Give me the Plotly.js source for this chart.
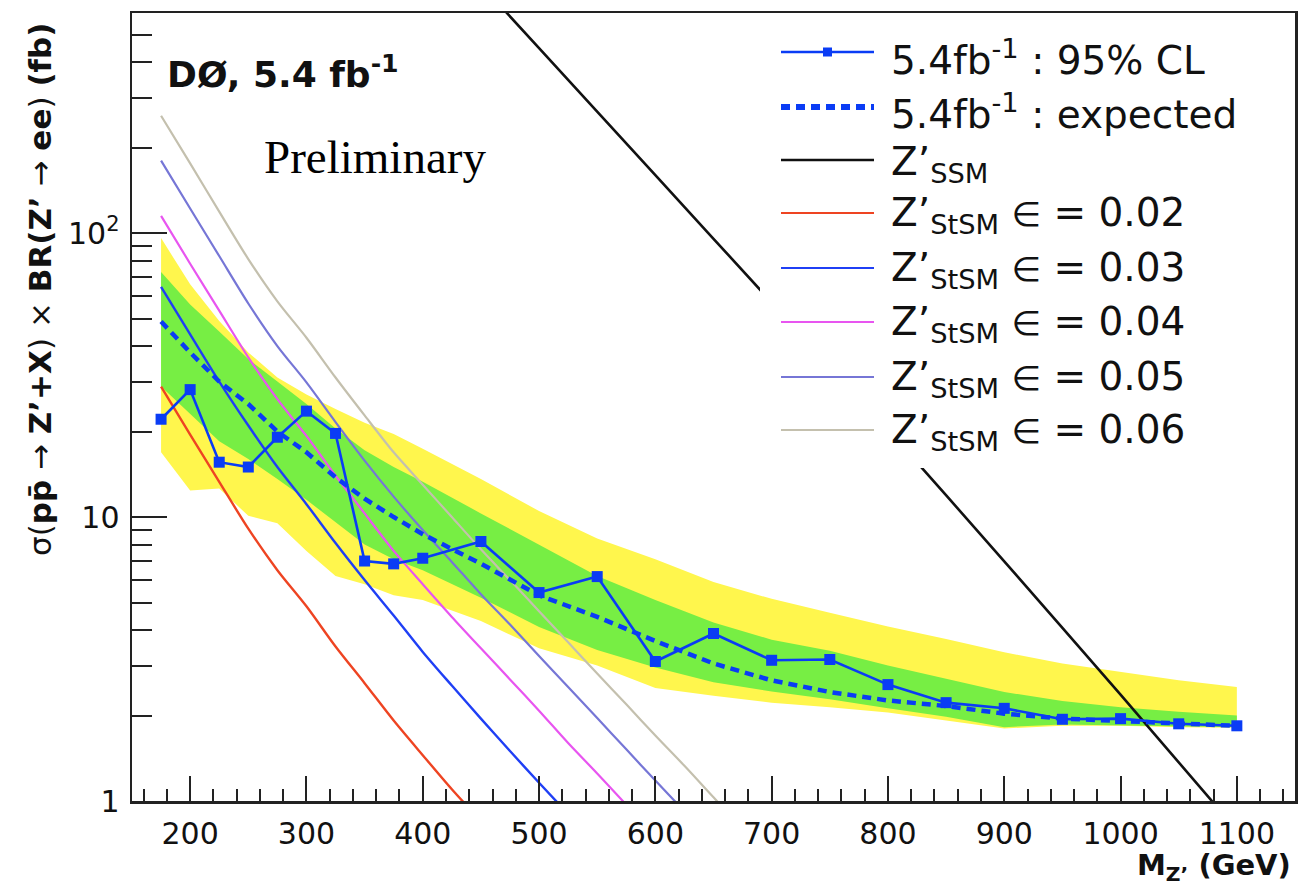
<!DOCTYPE html>
<html>
<head>
<meta charset="utf-8">
<script src="https://cdn.plot.ly/plotly-3.0.1.min.js"></script>
<style>html,body{margin:0;padding:0;background:#fff;}#chart{width:1313px;height:886px;}</style>
</head>
<body>
<div id="chart"></div>
<script>
// ---------------- data ----------------
const masses = [175,200,225,250,275,300,325,350,375,400,450,500,550,600,650,700,750,800,850,900,950,1000,1050,1100];
const observed = [22.1,28.1,15.6,15.0,19.1,23.6,19.7,7.0,6.84,7.16,8.2,5.42,6.17,3.1,3.89,3.13,3.15,2.57,2.22,2.12,1.94,1.95,1.87,1.84];
const expected = [48.8,38,30,25,20,16.9,13.8,11.6,10.0,8.7,6.85,5.3,4.45,3.66,3.05,2.66,2.42,2.26,2.16,2.03,1.95,1.91,1.87,1.84];
const band2Up = [96,66,49,38,31,27,24,21.5,19.6,17.4,13.6,10.5,8.4,7.1,5.9,5.15,4.6,4.12,3.72,3.34,3.05,2.84,2.66,2.52];
const band1Up = [73,56,45,36,30,25,20.5,17.2,15,13.3,10.3,8.0,6.2,5.1,4.25,3.7,3.38,3.0,2.7,2.42,2.25,2.14,2.06,2.0];
const band1Lo = [28.8,23,18.5,16,13.6,11.5,9.6,8.0,7.1,6.5,5.2,4.1,3.4,2.95,2.62,2.43,2.28,2.12,1.98,1.82,1.86,1.85,1.83,1.82];
const band2Lo = [16.9,12.4,12.6,10.1,9.5,7.6,6.2,5.8,5.3,5.1,4.3,3.45,3.0,2.5,2.35,2.22,2.14,2.05,1.92,1.8,1.84,1.84,1.82,1.81];

const ssmMass = [450,500,600,700,800,900,1000,1100];
const ssmXsec = [750,448,160,57,20.3,6.98,2.37,0.79];

const eps02Mass = [175,200,225,250,275,300,325,350,375,400,425,450];
const eps02Xsec = [28.8,19.5,13.3,9.1,6.5,4.85,3.5,2.6,1.92,1.45,1.1,0.85];
const eps03Mass = [175,200,225,250,275,300,325,350,375,400,425,450,475,500,525];
const eps03Xsec = [64.7,44,30,21,15,11.1,8.1,6.0,4.5,3.35,2.55,1.95,1.5,1.16,0.9];
const eps04Mass = [175,200,225,250,275,300,325,350,375,400,425,450,475,500,525,550,575];
const eps04Xsec = [115,78,53.3,36.5,26,19.3,14,10.3,7.6,5.8,4.45,3.45,2.68,2.08,1.6,1.25,0.97];
const eps05Mass = [175,200,225,250,275,300,325,350,375,400,425,450,475,500,525,550,575,600,625];
const eps05Xsec = [180,122,83,56.5,40,29.8,21.6,15.8,11.8,9.0,6.95,5.35,4.18,3.24,2.52,1.96,1.52,1.18,0.92];
const eps06Mass = [175,200,225,250,275,300,325,350,375,400,425,450,475,500,525,550,575,600,625,650,675];
const eps06Xsec = [259,176,119,81,57.5,42.8,31,22.8,16.9,13.0,10.0,7.7,6.0,4.66,3.62,2.81,2.19,1.7,1.33,1.03,0.8];

const xTickStep = 100, xMinorStep = 20;
const yTickVals = [1,10,100];
const yTickText = ['1','10','10<sup>2</sup>'];
const yMinorVals = [2,3,4,5,6,7,8,9,20,30,40,50,60,70,80,90,200,300,400,500];

const legendLabels = [
  '5.4fb<sup>-1</sup> : 95% CL',
  '5.4fb<sup>-1</sup> : expected',
  'Z’<sub>SSM</sub>',
  'Z’<sub>StSM</sub> ∈ = 0.02',
  'Z’<sub>StSM</sub> ∈ = 0.03',
  'Z’<sub>StSM</sub> ∈ = 0.04',
  'Z’<sub>StSM</sub> ∈ = 0.05',
  'Z’<sub>StSM</sub> ∈ = 0.06'
];

// ---------------- styles ----------------
const C = {
  obs:'#0a3cf5', yellow:'#fff64d', green:'#77ee44', black:'#111111',
  red:'#ee4422', blue:'#1f3ff5', magenta:'#e855f0', purple:'#7676d6', gray:'#c4c0ae'
};
const DASH = '9px,6px';

// plot area in pixels
const PL=132, PR=18, PT=13, PB=85, W=1313, H=886;
const PW=W-PL-PR, PH=H-PT-PB;
const px = x => (x-PL)/PW;
const py = y => 1-(y-PT)/PH;

const bandX = masses.concat(masses.slice().reverse());
const theory = (xs, ys, color, width) => ({x:xs, y:ys, mode:'lines', line:{color:color, width:width, shape:'spline', smoothing:0.8}});
const traces = [
  {x:bandX, y:band2Up.concat(band2Lo.slice().reverse()), fill:'toself', fillcolor:C.yellow, line:{width:0}, mode:'lines', hoverinfo:'skip'},
  {x:bandX, y:band1Up.concat(band1Lo.slice().reverse()), fill:'toself', fillcolor:C.green, line:{width:0}, mode:'lines', hoverinfo:'skip'},
  theory(eps06Mass, eps06Xsec, C.gray, 2.2),
  theory(eps05Mass, eps05Xsec, C.purple, 2.2),
  theory(eps04Mass, eps04Xsec, C.magenta, 2.2),
  theory(eps03Mass, eps03Xsec, C.blue, 2.4),
  theory(eps02Mass, eps02Xsec, C.red, 2.4),
  theory(ssmMass, ssmXsec, C.black, 2.6),
  {x:masses, y:expected, mode:'lines', line:{color:C.obs, width:4.5, dash:DASH}},
  {x:masses, y:observed, mode:'lines+markers', line:{color:C.obs, width:2.6}, marker:{symbol:'square', size:11, color:C.obs}}
];

// manual legend (white box hides the SSM line as in the original)
const rowY = [52,107,160,213,268,322,377,430];
const textOff = [6,5,4,2,2,2,2,2];
const rowStyle = [
  {color:C.obs, width:2.6},
  {color:C.obs, width:6, dash:DASH},
  {color:C.black, width:2.6},
  {color:C.red, width:2.2},
  {color:C.blue, width:2.2},
  {color:C.magenta, width:2.2},
  {color:C.purple, width:2.2},
  {color:C.gray, width:2.2}
];
const shapes = [
  {type:'rect', xref:'paper', yref:'paper', x0:px(760), x1:px(1290), y0:py(468), y1:py(24), fillcolor:'#ffffff', line:{width:0}, layer:'above'}
];
const annotations = [];
rowY.forEach((ry,i)=>{
  shapes.push({type:'line', xref:'paper', yref:'paper', x0:px(781), x1:px(874), y0:py(ry), y1:py(ry), line:rowStyle[i], layer:'above'});
  const txt = legendLabels[i].replace('∈', '<span style="font-size:34px">∈</span>');
  annotations.push({xref:'paper', yref:'paper', x:px(889), y:py(ry+textOff[i]), xanchor:'left', yanchor:'middle', showarrow:false,
    text:txt, font:{family:'DejaVu Sans', size:39, color:'#111'}});
});
shapes.push({type:'rect', xref:'paper', yref:'paper', x0:px(823), x1:px(832), y0:py(56.5), y1:py(47.5), fillcolor:C.obs, line:{width:0}, layer:'above'});

annotations.push(
  {xref:'paper', yref:'paper', x:px(165), y:py(72), xanchor:'left', yanchor:'middle', showarrow:false,
   text:'<b>DØ, 5.4 fb<sup>-1</sup></b>', font:{family:'DejaVu Sans', size:36, color:'#111'}},
  {xref:'paper', yref:'paper', x:px(262), y:py(157), xanchor:'left', yanchor:'middle', showarrow:false,
   text:'Preliminary', font:{family:'Liberation Serif', size:47, color:'#000'}},
  {xref:'paper', yref:'paper', x:px(40), y:py(290), xanchor:'center', yanchor:'middle', showarrow:false, textangle:-90,
   text:'σ(<b>p</b><b>p̄</b> → <b>Z’+X</b>) × <b>BR(Z’</b> → <b>ee</b>) <b>(fb)</b>', font:{family:'DejaVu Sans', size:31, color:'#111'}},
  {xref:'paper', yref:'paper', x:px(1293), y:py(867), xanchor:'right', yanchor:'middle', showarrow:false,
   text:'<b>M<sub>Z’</sub> (GeV)</b>', font:{family:'DejaVu Sans', size:29, color:'#111'}}
);

const layout = {
  width:W, height:H, margin:{l:PL, r:PR, t:PT, b:PB},
  paper_bgcolor:'#fff', plot_bgcolor:'#fff', showlegend:false,
  xaxis:{range:[150,1150], dtick:xTickStep, tick0:0, ticks:'inside', ticklen:25, tickwidth:2, tickcolor:'#222',
    showline:true, linewidth:2.5, linecolor:'#222', mirror:true, showgrid:false, zeroline:false,
    tickfont:{family:'DejaVu Sans', size:30, color:'#111'}, ticklabelstandoff:4,
    minor:{dtick:xMinorStep, ticks:'inside', ticklen:12, tickwidth:2, tickcolor:'#222', showgrid:false}},
  yaxis:{type:'log', range:[0,2.775], tickmode:'array', tickvals:yTickVals, ticktext:yTickText,
    ticks:'inside', ticklen:35, tickwidth:2, tickcolor:'#222',
    showline:true, linewidth:2.5, linecolor:'#222', mirror:true, showgrid:false, zeroline:false,
    tickfont:{family:'DejaVu Sans', size:30, color:'#111'}, ticklabelstandoff:4,
    minor:{tickmode:'array', tickvals:yMinorVals, ticks:'inside', ticklen:20, tickwidth:2, tickcolor:'#222', showgrid:false}},
  shapes:shapes, annotations:annotations
};

Plotly.newPlot('chart', traces, layout, {displayModeBar:false, staticPlot:true});
</script>
</body>
</html>
